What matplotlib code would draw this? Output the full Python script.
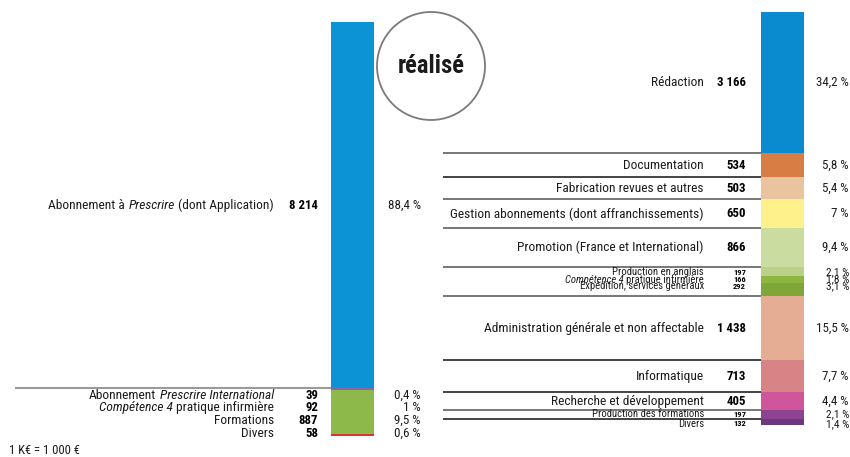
import matplotlib
matplotlib.use("Agg")
import matplotlib.pyplot as plt
from matplotlib import transforms
from matplotlib.patches import Circle
import numpy as np

FONT = ["Roboto Condensed", "Liberation Sans Narrow", "Roboto", "DejaVu Sans"]
plt.rcParams["font.family"] = FONT

# ---------------- data ----------------
left_labels = [
    [("Abonnement à", False), ("Prescrire", True), ("(dont Application)", False)],
    [("Abonnement", False), ("Prescrire International", True)],
    [("Compétence 4", True), ("pratique infirmière", False)],
    [("Formations", False)],
    [("Divers", False)],
]
left_values = [8214, 39, 92, 887, 58]
left_pcts = ["88,4 %", "0,4 %", "1 %", "9,5 %", "0,6 %"]
left_colors = ["#0B93D6", "#8C65A8", "#8DB84A", "#8DB84A", "#D7362C"]

right_labels = [
    [("Rédaction", False)],
    [("Documentation", False)],
    [("Fabrication revues et autres", False)],
    [("Gestion abonnements (dont affranchissements)", False)],
    [("Promotion (France et International)", False)],
    [("Production en anglais", False)],
    [("Compétence 4", True), ("pratique infirmière", False)],
    [("Expédition, services généraux", False)],
    [("Administration générale et non affectable", False)],
    [("Informatique", False)],
    [("Recherche et développement", False)],
    [("Production des formations", False)],
    [("Divers", False)],
]
right_values = [3166, 534, 503, 650, 866, 197, 166, 292, 1438, 713, 405, 197, 132]
right_pcts = ["34,2 %", "5,8 %", "5,4 %", "7 %", "9,4 %", "2,1 %", "1,8 %", "3,1 %",
              "15,5 %", "7,7 %", "4,4 %", "2,1 %", "1,4 %"]
right_colors = ["#0A8BD0", "#D87D43", "#EAC39F", "#FEF08A", "#CADCA0", "#BBD18A",
                "#8DB73E", "#80A63A", "#E5AE94", "#D88385", "#CF569A", "#8E4392", "#6B3880"]
# separator line below each segment (None = no line)
right_seps = ["#777777", "#111111", "#777777", "#777777", "#777777", None, None,
              "#777777", "#111111", "#111111", "#777777", "#111111", None]
right_small = [False, False, False, False, False, True, True, True, False, False, False, True, True]

# ---------------- layout ----------------
W, H = 850, 457
SCALE = 0.0446  # px per K€
TXT = "#1e1b1c"
fig = plt.figure(figsize=(W / 100, H / 100), dpi=100)
base = fig.add_axes([0, 0, 1, 1])
base.set_xlim(0, W)
base.set_ylim(H, 0)
base.axis("off")
renderer = fig.canvas.get_renderer()


def fit_size(s, target_px, size0=10.0, **kw):
    t = base.text(0, 0, s, fontsize=size0, **kw)
    w = t.get_window_extent(renderer=renderer).width
    t.remove()
    return size0 * target_px / w


FS = fit_size("Gestion abonnements (dont affranchissements)", 251)
SFS = fit_size("Production en anglais", 91)
VFS = fit_size("3 166", 29, fontweight="bold")
SVFS = fit_size("197", 13, fontweight="bold")
PFS = fit_size("34,2 %", 33)
SPFS = fit_size("2,1 %", 23)
RFS = fit_size("réalisé", 67, fontweight="bold")
NFS = fit_size("1 K€ = 1 000 €", 70)


def bar_axes(x0, x1, top, values, colors):
    total = sum(values)
    h = total * SCALE
    ax = fig.add_axes([x0 / W, 1 - (top + h) / H, (x1 - x0) / W, h / H])
    ax.set_xlim(0, 1)
    ax.set_ylim(total, 0)
    ax.axis("off")
    starts = np.concatenate([[0], np.cumsum(values)[:-1]])
    ax.bar([0.5] * len(values), values, bottom=starts, width=1.0, color=colors, linewidth=0)
    return ax, starts


def rich(x, y, parts, transform, size, color=TXT):
    rev = list(reversed(parts))
    s, it = rev[0]
    prev = base.text(x, y, s, transform=transform, ha="right", va="center", fontsize=size,
                     fontstyle="italic" if it else "normal", color=color)
    for s, it in rev[1:]:
        prev = base.annotate(s, xy=(0, 0), xycoords=prev, xytext=(-0.25 * size, 0),
                             textcoords="offset points", ha="right", va="bottom",
                             fontsize=size, fontstyle="italic" if it else "normal", color=color)
    return prev


def fmt(v):
    return f"{v:,}".replace(",", " ")


# ---- left bar ----
LX0, LX1, LTOP = 330.5, 373.5, 22
axL, lstarts = bar_axes(LX0, LX1, LTOP, left_values, left_colors)
blendL = transforms.blended_transform_factory(base.transData, axL.transData)

mid = lstarts[0] + left_values[0] / 2
rich(274, mid, left_labels[0], blendL, FS)
base.text(318, mid, fmt(left_values[0]), transform=blendL, ha="right", va="center",
          fontsize=VFS, fontweight="bold", color="black")
base.text(421, mid, left_pcts[0], transform=blendL, ha="right", va="center",
          fontsize=PFS, color=TXT)
base.plot([15, LX1], [left_values[0], left_values[0]], transform=blendL,
          color="#9a9a9a", lw=1.5, solid_capstyle="butt")

ystart = LTOP + left_values[0] * SCALE + 7
for i in range(1, len(left_values)):
    y = ystart + (i - 1) * 12.6
    rich(274, y, left_labels[i], base.transData, FS)
    base.text(318, y, fmt(left_values[i]), ha="right", va="center", fontsize=VFS,
              fontweight="bold", color="black")
    base.text(421, y, left_pcts[i], ha="right", va="center", fontsize=PFS, color=TXT)

# ---- right bar ----
RX0, RX1, RTOP = 761, 804, 12
axR, rstarts = bar_axes(RX0, RX1, RTOP, right_values, right_colors)
blendR = transforms.blended_transform_factory(base.transData, axR.transData)

for i, (v, st) in enumerate(zip(right_values, rstarts)):
    end = st + v
    if right_seps[i]:
        base.plot([443, RX0], [end, end], transform=blendR, color=right_seps[i],
                  lw=1.4 if right_seps[i] == "#777777" else 1.1, solid_capstyle="butt")
    if right_small[i]:
        continue
    midv = st + v / 2
    rich(704, midv, right_labels[i], blendR, FS)
    base.text(746, midv, fmt(v), transform=blendR, ha="right", va="center",
              fontsize=VFS, fontweight="bold", color="black")
    base.text(849, midv, right_pcts[i], transform=blendR, ha="right", va="center",
              fontsize=PFS, color=TXT)

# small groups: (5,6,7) and (11,12)
for grp, offs in (([5, 6, 7], [5.0, 12.2, 19.4]), ([11, 12], [3.8, 13.5])):
    top_px = RTOP + rstarts[grp[0]] * SCALE
    for i, off in zip(grp, offs):
        y = top_px + off
        rich(704, y, right_labels[i], base.transData, SFS)
        base.text(746, y, fmt(right_values[i]), ha="right", va="center", fontsize=SVFS,
                  fontweight="bold", color="black")
        base.text(849, y, right_pcts[i], ha="right", va="center", fontsize=SPFS, color=TXT)

# ---- decorations ----
base.add_patch(Circle((431, 66), 54, fill=False, edgecolor="#7a7a7a", lw=1.3))
base.text(431, 66, "réalisé", ha="center", va="center", fontsize=RFS, fontweight="bold",
          color="#1a1a1a")
base.text(9, 451, "1 K€ = 1 000 €", ha="left", va="center", fontsize=NFS, color=TXT)

fig.savefig("out.png", dpi=100)
